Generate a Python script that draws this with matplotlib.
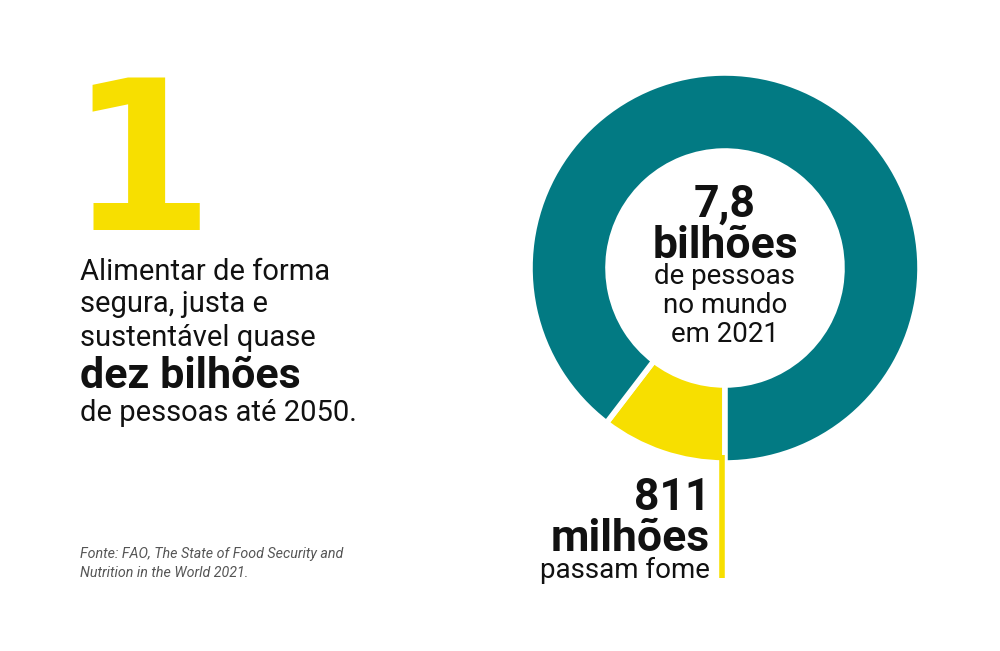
import matplotlib
matplotlib.use("Agg")
import matplotlib.pyplot as plt
from matplotlib.patches import Wedge

categories = ["Não passam fome", "Passam fome"]
values = [7800 - 811, 811]  # milhões de pessoas (total 7,8 bilhões)
colors = ["#027A83", "#F7DF00"]

fig = plt.figure(figsize=(10, 6.51), dpi=100)
ax = fig.add_axes([0, 0, 1, 1])
ax.set_xlim(0, 1000); ax.set_ylim(651, 0); ax.axis("off")

cx, cy, r_out, r_in = 725, 268, 195, 117
total = sum(values)
start = 90.0  # y axis inverted: 90 deg points down
ang_h = 360 * values[1] / total
ax.add_patch(Wedge((cx, cy), r_out, start, start + ang_h, width=r_out - r_in,
                   facecolor=colors[1], edgecolor="white", lw=4))
ax.add_patch(Wedge((cx, cy), r_out, start + ang_h, start + 360, width=r_out - r_in,
                   facecolor=colors[0], edgecolor="white", lw=4))
ax.plot([722, 722], [455, 578], color=colors[1], lw=4, solid_capstyle="butt")

F = "Roboto"
ax.text(68, 230, "1", color="#F7DF00", fontsize=150, fontweight="bold",
        family="DejaVu Sans", va="baseline")
lines = [("Alimentar de forma", 21, "normal", 280), ("segura, justa e", 21, "normal", 312),
         ("sustentável quase", 21, "normal", 346), ("dez bilhões", 31, "bold", 388),
         ("de pessoas até 2050.", 21, "normal", 421)]
for t, s, w, y in lines:
    ax.text(80, y, t, fontsize=s, fontweight=w, family=F, va="baseline", color="#111")
ax.text(80, 558, "Fonte: FAO, The State of Food Security and", fontsize=10.3, style="italic",
        family=F, color="#555", va="baseline")
ax.text(80, 577, "Nutrition in the World 2021.", fontsize=10.3, style="italic",
        family=F, color="#555", va="baseline")

for t, s, w, y in [("7,8", 32, "bold", 217), ("bilhões", 32, "bold", 258),
                   ("de pessoas", 20, "normal", 284), ("no mundo", 20, "normal", 313),
                   ("em 2021", 20, "normal", 342)]:
    ax.text(cx, y, t, fontsize=s, fontweight=w, family=F, ha="center", va="baseline", color="#111")
for t, s, w, y in [("811", 32, "bold", 510), ("milhões", 32, "bold", 551),
                   ("passam fome", 20, "normal", 578)]:
    ax.text(710, y, t, fontsize=s, fontweight=w, family=F, ha="right", va="baseline", color="#111")

fig.savefig("out.png", dpi=100, facecolor="white")
